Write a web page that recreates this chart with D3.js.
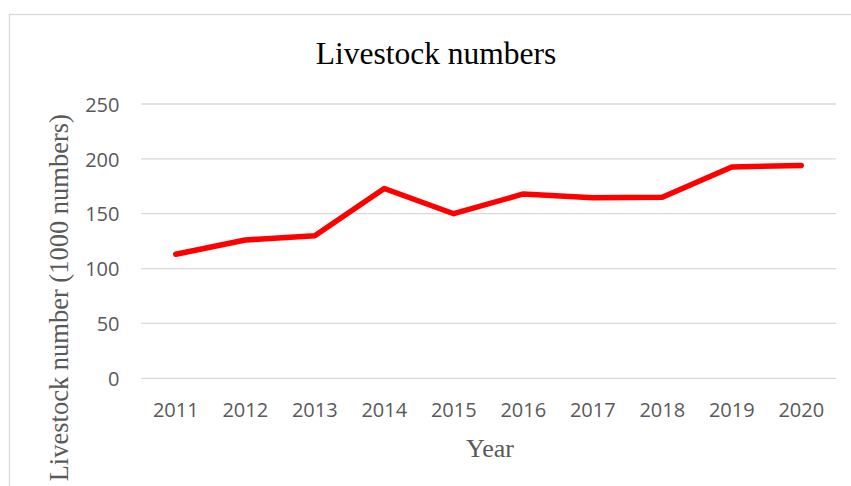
<!DOCTYPE html>
<html>
<head>
<meta charset="utf-8">
<script src="https://cdn.jsdelivr.net/npm/d3@7"></script>
<style>
  html, body { margin: 0; padding: 0; background: #fff; }
  svg { display: block; }
</style>
</head>
<body>
<svg id="chart" width="851" height="486"></svg>
<script>
const years = ["2011","2012","2013","2014","2015","2016","2017","2018","2019","2020"];
const livestock = [113, 126, 130, 173, 150, 168, 164.5, 165, 192.5, 194];
const yTicks = [0, 50, 100, 150, 200, 250];
const chartTitle = "Livestock numbers";
const xTitle = "Year";
const yTitle = "Livestock number (1000 numbers)";

const svg = d3.select("#chart");
const W = 851, H = 486;
const plot = { left: 141, right: 836, top: 104, bottom: 378.3 };

// chart border (extends beyond the visible frame at right/bottom)
svg.append("rect")
  .attr("x", 9.5).attr("y", 14.5)
  .attr("width", 900).attr("height", 600)
  .attr("fill", "none").attr("stroke", "#d9d9d9").attr("stroke-width", 1.3);

const x = d3.scaleBand().domain(years).range([plot.left, plot.right]);
const y = d3.scaleLinear().domain([0, 250]).range([plot.bottom, plot.top]);

// gridlines
svg.append("g")
  .selectAll("line").data(yTicks).join("line")
  .attr("x1", plot.left).attr("x2", plot.right)
  .attr("y1", d => y(d)).attr("y2", d => y(d))
  .attr("stroke", "#d9d9d9").attr("stroke-width", 1.3);

// y axis labels
const yAxis = d3.axisLeft(y).tickValues(yTicks).tickSize(0).tickPadding(0);
const gy = svg.append("g").attr("transform", "translate(119.5,0)").call(yAxis);
gy.select(".domain").remove();
gy.selectAll("text")
  .attr("font-family", "'Open Sans', sans-serif")
  .attr("font-size", 20)
  .attr("fill", "#595959")
  .attr("dy", "0.36em");

// x axis labels
const xAxis = d3.axisBottom(x).tickSize(0).tickPadding(0);
const gx = svg.append("g").attr("transform", "translate(0,417.3)").call(xAxis);
gx.select(".domain").remove();
gx.selectAll("text")
  .attr("font-family", "'Open Sans', sans-serif")
  .attr("font-size", 20)
  .attr("fill", "#595959")
  .attr("dy", 0)
  .attr("y", 0);

// line
const line = d3.line()
  .x((d, i) => x(years[i]) + x.bandwidth() / 2)
  .y(d => y(d));
svg.append("path")
  .datum(livestock)
  .attr("d", line)
  .attr("fill", "none")
  .attr("stroke", "#ff0000")
  .attr("stroke-width", 5.5)
  .attr("stroke-linejoin", "round")
  .attr("stroke-linecap", "round");

// titles
svg.append("text")
  .attr("x", 436).attr("y", 64)
  .attr("text-anchor", "middle")
  .attr("font-family", "'Liberation Serif', 'Times New Roman', serif")
  .attr("font-size", 31.5)
  .attr("fill", "#000")
  .text(chartTitle);

svg.append("text")
  .attr("x", 490).attr("y", 457)
  .attr("text-anchor", "middle")
  .attr("font-family", "'Liberation Serif', 'Times New Roman', serif")
  .attr("font-size", 26)
  .attr("fill", "#595959")
  .text(xTitle);

svg.append("text")
  .attr("transform", "translate(68,297.7) rotate(-90)")
  .attr("text-anchor", "middle")
  .attr("font-family", "'Liberation Serif', 'Times New Roman', serif")
  .attr("font-size", 26.5)
  .attr("fill", "#595959")
  .text(yTitle);
</script>
</body>
</html>
